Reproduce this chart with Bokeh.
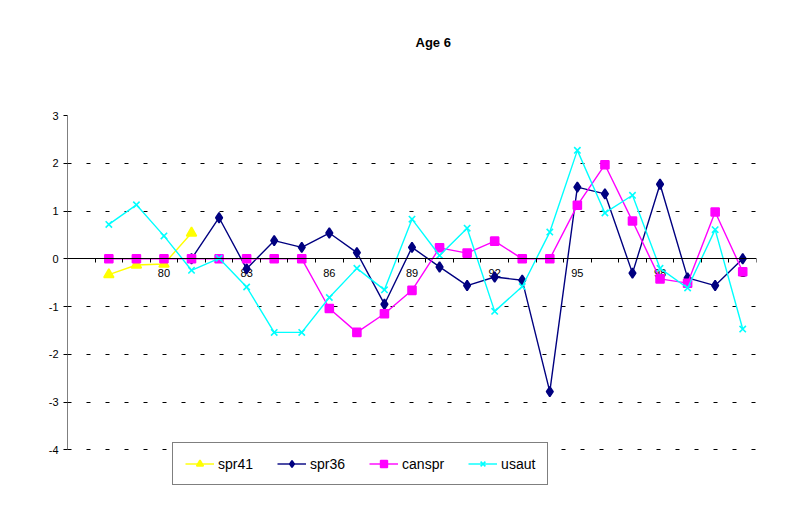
from bokeh.plotting import figure
from bokeh.models import Range1d, FixedTicker, Legend, LegendItem, Title
from bokeh.core.properties import value
from bokeh.embed import file_html
from bokeh.resources import INLINE

# ---- data ----
years = ["77", "78", "79", "80", "81", "82", "83", "84", "85", "86", "87", "88", "89",
         "90", "91", "92", "93", "94", "95", "96", "97", "98", "99", "0", "1"]
tick_years = ["80", "83", "86", "89", "92", "95", "98", "1"]

spr41_years = ["78", "79", "80", "81"]
spr41 = [-0.33, -0.13, -0.11, 0.54]

spr36_years = ["81", "82", "83", "84", "85", "86", "87", "88", "89", "90", "91", "92",
               "93", "94", "95", "96", "97", "98", "99", "0", "1"]
spr36 = [0.0, 0.86, -0.21, 0.38, 0.24, 0.54, 0.13, -0.95, 0.24, -0.17, -0.56, -0.38,
         -0.45, -2.78, 1.50, 1.36, -0.30, 1.56, -0.40, -0.56, 0.0]

canspr_years = years[1:]
canspr = [0, 0, 0, 0, 0, 0, 0, 0, -1.04, -1.54, -1.15, -0.66, 0.23, 0.12, 0.37, 0.0,
          0.0, 1.12, 1.97, 0.79, -0.42, -0.51, 0.98, -0.27]

usaut_years = years[1:]
usaut = [0.72, 1.13, 0.48, -0.24, 0.01, -0.59, -1.54, -1.54, -0.81, -0.20, -0.65, 0.83,
         0.07, 0.64, -1.10, -0.58, 0.56, 2.27, 0.96, 1.33, -0.20, -0.61, 0.61, -1.47]

y_ticks = [-4, -3, -2, -1, 0, 1, 2, 3]


def xpos(labels):
    return [years.index(l) + 0.5 for l in labels]


FONT = "Liberation Sans"

p = figure(width=778, height=500, output_backend="svg", toolbar_location=None,
           x_range=Range1d(0, len(years)), y_range=Range1d(-4.85, max(y_ticks)),
           min_border_left=67, min_border_right=22, min_border_top=115,
           min_border_bottom=10, title=None)
p.outline_line_color = None
p.background_fill_color = "white"
p.border_fill_color = "white"

# spacer panel between the title and the plot area
p.add_layout(Title(text=" ", text_font_size="13px", standoff=44), "above")
p.add_layout(Title(text="Age 6", align="left", offset=348, standoff=10,
                   text_font=FONT, text_font_size="13px",
                   text_font_style="bold", text_color="black"), "above")

# x axis at y=0 (tick marks between categories)
xa = p.xaxis[0]
xa.fixed_location = 0
xa.ticker = FixedTicker(ticks=[], minor_ticks=list(range(1, len(years) + 1)))
xa.major_tick_out = 0
xa.major_tick_in = 0
xa.minor_tick_out = 4
xa.minor_tick_in = 0
xa.axis_line_color = "black"
xa.minor_tick_line_color = "black"
xa.major_label_standoff = 0

# x tick labels just under the zero line
p.text(x=xpos(tick_years), y=[0] * len(tick_years), text=tick_years,
       y_offset=10, text_baseline="top", text_align="center",
       text_font=value(FONT), text_font_size="11px", text_color="black")

ya = p.yaxis[0]
ya.ticker = FixedTicker(ticks=y_ticks, minor_ticks=[])
ya.major_label_overrides = {t: str(t) for t in y_ticks}
ya.major_tick_out = 4
ya.major_tick_in = 0
ya.axis_line_color = None
ya.major_tick_line_color = "black"
ya.major_label_standoff = 5
ya.major_label_text_font = FONT
ya.major_label_text_font_size = "11px"
ya.major_label_text_color = "black"

p.xgrid.visible = False
p.ygrid.ticker = FixedTicker(ticks=y_ticks)
p.ygrid.grid_line_color = "black"
p.ygrid.grid_line_dash = "4 15"
p.ygrid.grid_line_width = 1

# value axis line spanning the tick range only
p.segment(x0=[0], y0=[min(y_ticks)], x1=[0], y1=[max(y_ticks)],
          line_color="black", line_width=1)

items = []
series = [
    ("spr41", spr41_years, spr41, "#FFFF00", "triangle", 10),
    ("spr36", spr36_years, spr36, "#000080", "diamond", 10),
    ("canspr", canspr_years, canspr, "#FF00FF", "square", 8),
    ("usaut", usaut_years, usaut, "#00FFFF", "x", 9),
]
for name, yrs, vals, col, mk, sz in series:
    xs = xpos(yrs)
    lr = p.line(xs, vals, line_color=col, line_width=1.4)
    sr = p.scatter(xs, vals, marker=mk, size=sz, fill_color=col,
                   line_color=col, line_width=1.6)
    items.append(LegendItem(label=name, renderers=[lr, sr]))

legend = Legend(items=items, orientation="horizontal", location=(105, 5),
                border_line_color="black", border_line_width=1,
                background_fill_color="white", background_fill_alpha=1,
                label_text_font=FONT, label_text_font_size="14px",
                label_text_color="black", glyph_width=29, glyph_height=17,
                label_height=17, label_standoff=4, spacing=24, padding=12,
                margin=0)
p.add_layout(legend, "center")

open("out.html", "w").write(file_html(p, INLINE))
